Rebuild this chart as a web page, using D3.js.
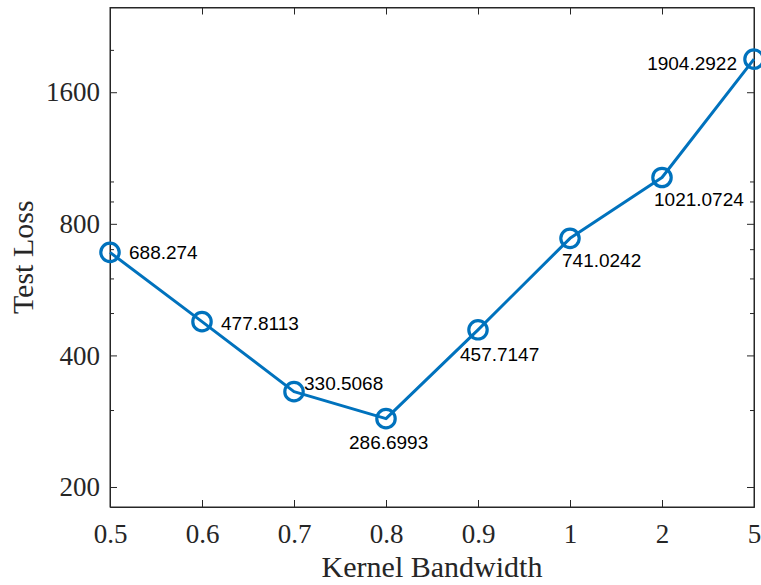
<!DOCTYPE html>
<html>
<head>
<meta charset="utf-8">
<script src="https://cdn.jsdelivr.net/npm/d3@7"></script>
<style>
  body { margin: 0; background: #fff; }
  .tick text { font-family: "Liberation Serif", "Times New Roman", serif; }
</style>
</head>
<body>
<div class="chart"></div>
<script>
// data
const bandwidths = ['0.5', '0.6', '0.7', '0.8', '0.9', '1', '2', '5'];
const testLoss = [688.274, 477.8113, 330.5068, 286.6993, 457.7147, 741.0242, 1021.0724, 1904.2922];
const lossLabels = ['688.274', '477.8113', '330.5068', '286.6993', '457.7147', '741.0242', '1021.0724', '1904.2922'];
const yTicks = [200, 400, 800, 1600];
const yMinorTicks = [300, 500, 600, 700, 900, 1000, 2000];
const yLimits = [180, 2500];

// label placement relative to marker (dx, dy, anchor)
const labelOffsets = [
  [19, 7, 'start'], [19, 8, 'start'], [10, -2, 'start'], [-37, 30, 'start'],
  [-18, 31, 'start'], [-8, 29, 'start'], [-8, 29, 'start'], [-17, 11, 'end']
];

const margin = {top: 7.5, left: 110, bottom: 78, right: 7};
const width = 761 - margin.left - margin.right;
const height = 585 - margin.top - margin.bottom;
const axisColor = '#262626';
const blue = '#0072BD';

const svg = d3.select('.chart')
  .append('svg')
  .attr('width', 761)
  .attr('height', 585)
  .append('g')
  .attr('transform', 'translate(' + margin.left + ',' + margin.top + ')');

const xScale = d3.scalePoint()
  .domain(bandwidths)
  .range([0, width]);

const yScale = d3.scaleLog()
  .domain(yLimits)
  .range([height, 0]);

// box
svg.append('rect')
  .attr('width', width)
  .attr('height', height)
  .attr('fill', 'none')
  .attr('stroke', axisColor)
  .attr('stroke-width', 1);

// bottom axis
const xAxis = svg.append('g')
  .attr('transform', 'translate(0,' + height + ')')
  .call(d3.axisBottom(xScale).tickSizeInner(-7).tickSizeOuter(0).tickPadding(17));
xAxis.selectAll('text').attr('font-size', 27).attr('fill', axisColor);

// top ticks
svg.append('g')
  .call(d3.axisTop(xScale).tickSizeInner(-7).tickSizeOuter(0).tickFormat(''));

// left axis
const yAxis = svg.append('g')
  .call(d3.axisLeft(yScale).tickValues(yTicks).tickFormat(d3.format('d'))
    .tickSizeInner(-7).tickSizeOuter(0).tickPadding(10));
yAxis.selectAll('text').attr('font-size', 27).attr('fill', axisColor);

svg.append('g')
  .call(d3.axisLeft(yScale).tickValues(yMinorTicks).tickFormat('')
    .tickSizeInner(-4).tickSizeOuter(0));

// right ticks
svg.append('g')
  .attr('transform', 'translate(' + width + ',0)')
  .call(d3.axisRight(yScale).tickValues(yTicks).tickFormat('')
    .tickSizeInner(-7).tickSizeOuter(0));
svg.append('g')
  .attr('transform', 'translate(' + width + ',0)')
  .call(d3.axisRight(yScale).tickValues(yMinorTicks).tickFormat('')
    .tickSizeInner(-4).tickSizeOuter(0));

svg.selectAll('.domain').attr('stroke', axisColor);
svg.selectAll('.tick line').attr('stroke', axisColor);

// axis titles
svg.append('text')
  .attr('x', width / 2)
  .attr('y', height + 70)
  .attr('text-anchor', 'middle')
  .attr('font-family', '"Liberation Serif", serif')
  .attr('font-size', 30)
  .attr('fill', axisColor)
  .text('Kernel Bandwidth');

svg.append('text')
  .attr('transform', 'translate(' + (33 - margin.left) + ',' + (height / 2) + ') rotate(-90)')
  .attr('text-anchor', 'middle')
  .attr('font-family', '"Liberation Serif", serif')
  .attr('font-size', 30)
  .attr('fill', axisColor)
  .text('Test Loss');

// line + markers
const points = bandwidths.map((b, i) => ({b: b, v: testLoss[i], label: lossLabels[i], off: labelOffsets[i]}));

svg.append('path')
  .datum(points)
  .attr('fill', 'none')
  .attr('stroke', blue)
  .attr('stroke-width', 3)
  .attr('stroke-linejoin', 'round')
  .attr('d', d3.line().x(d => xScale(d.b)).y(d => yScale(d.v)));

svg.selectAll('.marker')
  .data(points)
  .enter()
  .append('circle')
  .attr('class', 'marker')
  .attr('cx', d => xScale(d.b))
  .attr('cy', d => yScale(d.v))
  .attr('r', 9.2)
  .attr('fill', 'none')
  .attr('stroke', blue)
  .attr('stroke-width', 3.2);

svg.selectAll('.val')
  .data(points)
  .enter()
  .append('text')
  .attr('class', 'val')
  .attr('x', d => xScale(d.b) + d.off[0])
  .attr('y', d => yScale(d.v) + d.off[1])
  .attr('text-anchor', d => d.off[2])
  .attr('font-family', '"Liberation Sans", Arial, sans-serif')
  .attr('font-size', 19)
  .attr('fill', '#000')
  .text(d => d.label);
</script>
</body>
</html>
